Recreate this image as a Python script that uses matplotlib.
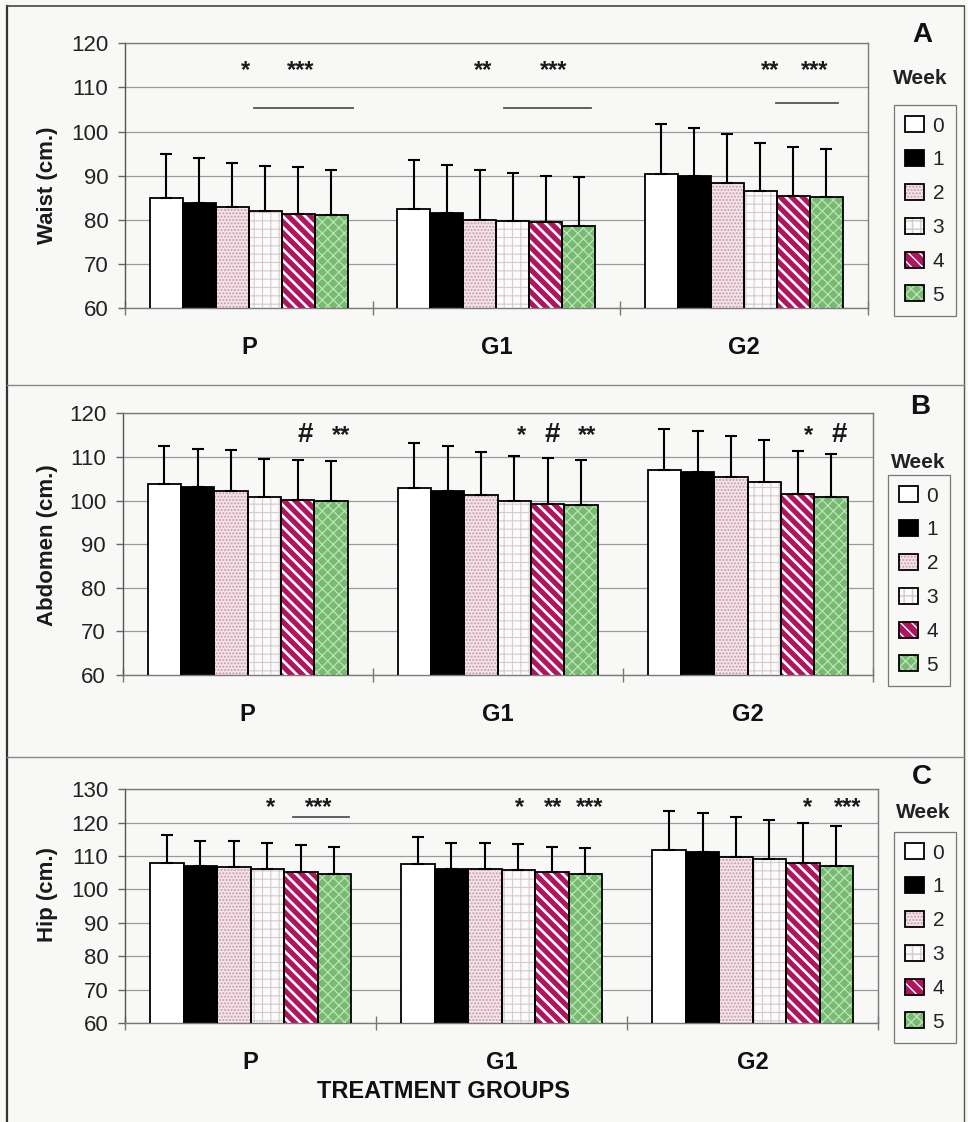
import matplotlib
matplotlib.use("Agg")
import matplotlib.pyplot as plt
import numpy as np
from matplotlib.patches import Patch
from matplotlib.lines import Line2D
from matplotlib.legend_handler import HandlerTuple

plt.rcParams['font.family'] = ['Liberation Sans', 'DejaVu Sans']
plt.rcParams['hatch.linewidth'] = 1.0

# ---------------- data ----------------
groups = ['P', 'G1', 'G2']
weeks = ['0', '1', '2', '3', '4', '5']

waist_mean = [[85.0, 83.8, 83.0, 82.0, 81.4, 81.0],
              [82.4, 81.5, 79.9, 79.8, 79.4, 78.6],
              [90.3, 89.9, 88.4, 86.5, 85.4, 85.1]]
waist_sd = [[9.8, 10.1, 9.9, 10.3, 10.6, 10.3],
            [11.2, 10.9, 11.3, 10.8, 10.5, 11.0],
            [11.3, 11.0, 11.1, 10.8, 11.1, 11.0]]

abdomen_mean = [[103.8, 103.1, 102.1, 100.9, 100.1, 99.8],
                [102.8, 102.2, 101.2, 100.0, 99.3, 99.0],
                [107.0, 106.5, 105.3, 104.2, 101.6, 100.8]]
abdomen_sd = [[8.8, 8.8, 9.5, 8.7, 9.2, 9.3],
              [10.4, 10.4, 10.0, 10.3, 10.5, 10.3],
              [9.4, 9.4, 9.4, 9.7, 9.7, 9.8]]

hip_mean = [[108.0, 107.0, 106.7, 106.0, 105.3, 104.7],
            [107.6, 106.0, 106.0, 105.8, 105.3, 104.6],
            [111.9, 111.2, 109.7, 109.0, 107.8, 107.0]]
hip_sd = [[8.2, 7.6, 7.9, 7.8, 8.1, 7.9],
          [8.0, 7.8, 7.8, 7.8, 7.5, 7.7],
          [11.6, 11.6, 12.0, 11.9, 12.2, 11.9]]

# significance marks: (x position in category units, label)
waist_marks = [(-0.015, '*'), (0.208, '***'), (0.948, '**'), (1.231, '***'),
               (2.104, '**'), (2.286, '***')]
waist_mark_y = 112.4
waist_lines = [(0.022, 0.422, 105.4), (1.029, 1.384, 105.4), (2.128, 2.379, 106.5)]

abdomen_marks = [(0.229, '#'), (0.372, '**'), (1.096, '*'), (1.218, '#'),
                 (1.356, '**'), (2.242, '*'), (2.366, '#')]
abdomen_mark_y = 113.5
abdomen_lines = []

hip_marks = [(0.078, '*'), (0.270, '***'), (1.071, '*'), (1.206, '**'),
             (1.349, '***'), (2.218, '*'), (2.379, '***')]
hip_mark_y = 122.6
hip_lines = [(0.171, 0.394, 121.6)]

# ---------------- styles ----------------
BG = '#f8f8f6'
week_face = ['#ffffff', '#000000', '#f3e5ea', '#fcfafa', '#b0145e', '#76bb70']
week_hatch = [None, None, '.....', '++', '\\\\\\', 'xxx']
week_hcol = ['#ffffff', '#000000', '#c99aac', '#d4cccc', '#ffffff', '#c0e2bb']
week_hlw = [1.0, 1.0, 1.0, 0.8, 1.9, 0.9]

FIG_W, FIG_H = 968, 1122


def fx(px):
    return px / FIG_W


def fy(py):
    return 1 - py / FIG_H


def set_hlw(artists, lw):
    for a in artists:
        if hasattr(a, 'set_hatch_linewidth'):
            a.set_hatch_linewidth(lw)


fig = plt.figure(figsize=(FIG_W / 100, FIG_H / 100), dpi=100, facecolor=BG)

panels = [
    dict(mean=waist_mean, sd=waist_sd, ylabel='Waist (cm.)', letter='A',
         box=(125, 43.3, 867.7, 308), ylim=(60, 120),
         marks=waist_marks, mark_y=waist_mark_y, lines=waist_lines,
         ylab_y=185, letter_xy=(922, 35), week_xy=(920, 78), leg_xy=(894, 105)),
    dict(mean=abdomen_mean, sd=abdomen_sd, ylabel='Abdomen (cm.)', letter='B',
         box=(122.7, 413.3, 872.7, 675), ylim=(60, 120),
         marks=abdomen_marks, mark_y=abdomen_mark_y, lines=abdomen_lines,
         ylab_y=545, letter_xy=(920, 407), week_xy=(918, 463), leg_xy=(888, 475)),
    dict(mean=hip_mean, sd=hip_sd, ylabel='Hip (cm.)', letter='C',
         box=(125, 789.3, 878.3, 1023), ylim=(60, 130),
         marks=hip_marks, mark_y=hip_mark_y, lines=hip_lines,
         ylab_y=895, letter_xy=(922, 777), week_xy=(923, 813), leg_xy=(894, 832)),
]

x = np.arange(len(groups))
w = 0.8 / len(weeks)

for p in panels:
    l, t, r, b = p['box']
    ax = fig.add_axes([fx(l), fy(b), (r - l) / FIG_W, (b - t) / FIG_H])
    ax.set_facecolor(BG)
    ax.set_axisbelow(True)
    mean = np.array(p['mean'])
    sd = np.array(p['sd'])
    for j in range(len(weeks)):
        xs = x + (j - 2.5) * w
        vals = mean[:, j]
        ax.bar(xs, vals, w, color=week_face[j], edgecolor='none', linewidth=0, zorder=2)
        if week_hatch[j]:
            with plt.rc_context({'hatch.linewidth': week_hlw[j]}):
                hb = ax.bar(xs, vals, w, facecolor='none', edgecolor=week_hcol[j],
                            linewidth=0, hatch=week_hatch[j], zorder=3)
            set_hlw(hb.patches, week_hlw[j])
        ax.bar(xs, vals, w, facecolor='none', edgecolor='black', linewidth=1.3, zorder=4)
        ax.errorbar(xs, vals, yerr=[np.zeros_like(vals), sd[:, j]], fmt='none',
                    ecolor='black', elinewidth=1.5, capsize=4, capthick=1.5, zorder=5)
    for mx, lab in p['marks']:
        fs = 20 if lab == '#' else 17
        ax.text(mx, p['mark_y'], lab, ha='center', va='baseline', fontsize=fs,
                fontweight='bold', color='#1a1a1a', zorder=6)
    for x0, x1, yy in p['lines']:
        ax.plot([x0, x1], [yy, yy], color='#555555', lw=1.3, zorder=6)

    ax.set_xlim(-0.5, 2.5)
    ax.set_ylim(*p['ylim'])
    ax.set_yticks(np.arange(p['ylim'][0], p['ylim'][1] + 1, 10))
    ax.yaxis.grid(True, color='#9a9a9a', lw=0.9)
    ax.tick_params(axis='y', labelsize=16, length=5, width=1, color='#666666',
                   pad=7, labelcolor='#222222')
    ax.set_xticks(x)
    ax.set_xticklabels(groups, fontsize=17, fontweight='bold', color='#111111')
    ax.tick_params(axis='x', which='major', length=0, pad=20)
    ax.set_xticks([-0.5, 0.5, 1.5, 2.5], minor=True)
    ax.tick_params(axis='x', which='minor', length=10, direction='inout',
                   color='#777777', width=1)
    for s in ax.spines.values():
        s.set_color('#7a7a7a')
        s.set_linewidth(1.0)
    ax.spines['left'].set_color('#555555')

    fig.text(fx(48), fy(p['ylab_y']), p['ylabel'], rotation=90, ha='center',
             va='center', fontsize=16, fontweight='bold', color='#1a1a1a')
    fig.text(fx(p['letter_xy'][0]), fy(p['letter_xy'][1]), p['letter'], ha='center',
             va='center', fontsize=20, fontweight='bold', color='#111111')
    fig.text(fx(p['week_xy'][0]), fy(p['week_xy'][1]), 'Week', ha='center',
             va='center', fontsize=15, fontweight='bold', color='#222222')

    handles = []
    for j in range(len(weeks)):
        parts = [Patch(facecolor=week_face[j], edgecolor='none', linewidth=0)]
        if week_hatch[j]:
            hp = Patch(facecolor='none', edgecolor=week_hcol[j], linewidth=0,
                       hatch=week_hatch[j])
            set_hlw([hp], week_hlw[j])
            parts.append(hp)
        parts.append(Patch(facecolor='none', edgecolor='black', linewidth=1.3))
        handles.append(tuple(parts))
    leg = fig.legend(handles, weeks, loc='upper left',
                     bbox_to_anchor=(fx(p['leg_xy'][0]), fy(p['leg_xy'][1])),
                     fontsize=15, handlelength=0.9, handleheight=0.8,
                     handletextpad=0.4, labelspacing=0.7, borderpad=0.55,
                     borderaxespad=0, frameon=True, fancybox=False,
                     edgecolor='#777777', facecolor=BG, framealpha=1,
                     handler_map={tuple: HandlerTuple(ndivide=1, pad=0)})
    leg.get_frame().set_linewidth(0.9)
    for txt in leg.get_texts():
        txt.set_color('#222222')

fig.text(fx(443), fy(1092), 'TREATMENT GROUPS', ha='center', va='center',
         fontsize=17, fontweight='bold', color='#111111')

# panel frame and separators
fig.add_artist(Line2D([fx(7), fx(7)], [fy(6), fy(1121)], color='#333333', lw=1.6))
fig.add_artist(Line2D([fx(964), fx(964)], [fy(6), fy(1121)], color='#555555', lw=1.0))
fig.add_artist(Line2D([fx(7), fx(964)], [fy(6), fy(6)], color='#444444', lw=1.2))
fig.add_artist(Line2D([fx(7), fx(964)], [fy(385), fy(385)], color='#888888', lw=1.0))
fig.add_artist(Line2D([fx(7), fx(964)], [fy(757), fy(757)], color='#888888', lw=1.0))

fig.savefig('out.png', dpi=100, facecolor=BG)
